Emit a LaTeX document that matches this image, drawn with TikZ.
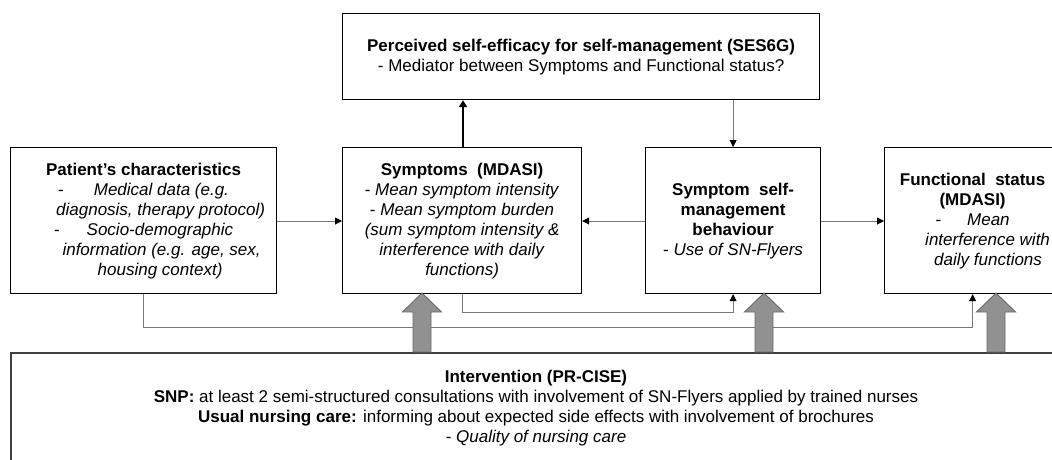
\documentclass[tikz,border=0pt]{standalone}
\usepackage{fontspec}
\setmainfont{Liberation Sans}
\usetikzlibrary{arrows.meta,calc}
\definecolor{conn}{RGB}{120,120,120}
\definecolor{arrfill}{RGB}{145,145,145}
\definecolor{arrdraw}{RGB}{105,105,105}
\begin{document}
\begin{tikzpicture}[x=1pt,y=-1pt,
  txt/.style={font=\fontsize{17}{20}\selectfont},
  box/.style={draw=black,line width=1.2pt,fill=white,anchor=north west,align=center,inner sep=2pt,txt},
  conline/.style={draw=conn,line width=0.9pt,-{Triangle[length=7pt,width=7pt,color=black]}},
  thickline/.style={draw=black,line width=1.8pt,-{Triangle[length=7pt,width=8pt,color=black]}},
  bigarrow/.pic={\path[fill=arrfill,draw=arrdraw,line width=0.9pt]
     (-9,0) -- (-9,-40) -- (-19.5,-40) -- (0,-59) -- (19.5,-40) -- (9,-40) -- (9,0) -- cycle;}
]
\useasboundingbox (0,0) rectangle (1052,459);
\begin{scope}
\clip (0,0) rectangle (1052,459);

% top box
\node[box,minimum width=477pt,minimum height=86pt] (top) at (342,13)
  {\textbf{Perceived self-efficacy for self-management (SES6G)}\\- Mediator between Symptoms and Functional status?};

% patient
\node[box,minimum width=266pt,minimum height=146pt] (pat) at (10,147)
  {\textbf{Patient’s characteristics}\\
   -\hspace{30pt}\textit{Medical data (e.g.}\\
   \hspace*{34pt}\textit{diagnosis, therapy protocol)}\\
   -\hspace{27pt}\textit{Socio-demographic}\\
   \hspace*{36pt}\textit{information (e.g. age, sex,}\\
   \hspace*{33pt}\textit{housing context)}};

% symptoms
\node[box,minimum width=239pt,minimum height=146pt] (sym) at (342,147)
  {\textbf{Symptoms\ \ (MDASI)}\\
   - \textit{Mean symptom intensity}\\
   - \textit{Mean symptom burden}\\
   \textit{(sum symptom intensity \&}\\
   \textit{interference with daily}\\
   \textit{functions)}};

% self-management
\node[box,minimum width=175pt,minimum height=146pt] (self) at (645,147)
  {\textbf{Symptom\ \ self-}\\
   \textbf{management}\\
   \textbf{behaviour}\\
   - \textit{Use of SN-Flyers}};

% functional status
\node[box,minimum width=176pt,minimum height=146pt] (func) at (884,147)
  {\textbf{Functional\ \ status}\\
   \textbf{(MDASI)}\\
   -\hspace{26pt}\textit{Mean}\\
   \hspace*{30pt}\textit{interference with}\\
   \hspace*{31pt}\textit{daily functions}};

% intervention
\node[draw=black!75,line width=1.6pt,anchor=north west,minimum width=1060pt,minimum height=140pt] (int) at (10,352) {};
\node[align=center,txt,inner sep=0pt] (inttxt) at (536,408)
  {\textbf{Intervention (PR-CISE)}\\
   \textbf{SNP:} at least 2 semi-structured consultations with involvement of SN-Flyers applied by trained nurses\\
   \textbf{Usual nursing care:} informing about expected side effects with involvement of brochures\\
   - \textit{Quality of nursing care}};

% connectors
\draw[conline] (pat.east |- 0,221) -- (sym.west |- 0,221);
\draw[conline] (self.west |- 0,221) -- (sym.east |- 0,221);
\draw[conline] (self.east |- 0,221) -- (func.west |- 0,221);
\draw[thickline] (sym.north -| 463,0) -- (top.south -| 463,0);
\draw[conline] (top.south -| self.north) -- (self.north);
\draw[conline] (sym.south) -- ++(0,18) -| (self.south);
\draw[conline] (pat.south) -- ++(0,33) -| (func.south);

% big grey arrows
\pic at (422,352) {bigarrow};
\pic at (764,352) {bigarrow};
\pic at (996,352) {bigarrow};
\end{scope}
\end{tikzpicture}
\end{document}
